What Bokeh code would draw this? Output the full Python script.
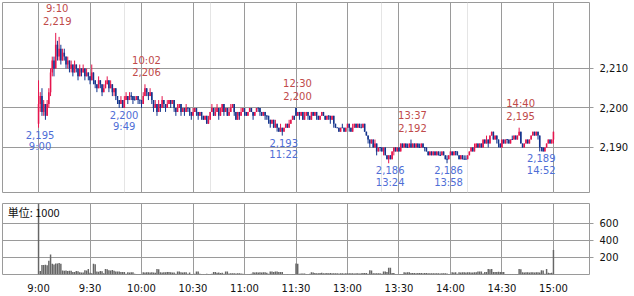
from bokeh.plotting import figure
from bokeh.layouts import column
from bokeh.models import (ColumnDataSource, FixedTicker, NumeralTickFormatter,
                          Range1d, Grid, Label)
from bokeh.embed import file_html
from bokeh.resources import INLINE
from bokeh.core.properties import value

# ---------------- data ----------------
TICK_LABELS = ["9:00", "9:30", "10:00", "10:30", "11:00", "11:30",
               "13:00", "13:30", "14:00", "14:30", "15:00"]
PRICE_TICKS = [2190, 2200, 2210]
VOLUME_TICKS = [200, 400, 600]

# one-minute candles, 9:00-11:30 then 12:30-15:00
OPEN = [
    2196, 2201, 2203, 2199, 2201, 2198, 2201, 2204, 2209, 2212,
    2210, 2216, 2213, 2215, 2212, 2214, 2213, 2211, 2212, 2210,
    2211, 2209, 2211, 2210, 2208, 2210, 2209, 2210, 2208, 2209,
    2208, 2207, 2209, 2207, 2206, 2205, 2207, 2206, 2204, 2205,
    2206, 2207, 2205, 2206, 2204, 2205, 2203, 2202, 2201, 2202,
    2200, 2202, 2203, 2202, 2203, 2203, 2202, 2202, 2203, 2202,
    2202, 2201, 2203, 2205, 2204, 2203, 2204, 2202, 2200, 2201,
    2199, 2201, 2200, 2202, 2201, 2200, 2201, 2202, 2201, 2202,
    2200, 2199, 2200, 2201, 2199, 2200, 2199, 2200, 2200, 2199,
    2198, 2199, 2200, 2199, 2198, 2199, 2198, 2197, 2198, 2196,
    2197, 2199, 2200, 2198, 2199, 2200, 2198, 2199, 2201, 2199,
    2200, 2198, 2199, 2200, 2201, 2199, 2197, 2199, 2198, 2199,
    2200, 2199, 2198, 2199, 2200, 2199, 2198, 2199, 2200, 2200,
    2199, 2198, 2199, 2198, 2198, 2197, 2196, 2197, 2195, 2196,
    2195, 2194, 2195, 2194, 2195, 2196, 2195, 2196, 2197, 2198,
    2200, 2198, 2199, 2198, 2199, 2197, 2198, 2199, 2198, 2197,
    2199, 2198, 2199, 2198, 2197, 2198, 2199, 2198, 2197, 2198,
    2198, 2197, 2198, 2196, 2195, 2195, 2194, 2195, 2195, 2194,
    2195, 2196, 2195, 2194, 2195, 2196, 2195, 2196, 2195, 2195,
    2196, 2194, 2193, 2192, 2191, 2192, 2190, 2191, 2189, 2190,
    2190, 2189, 2190, 2188, 2187, 2188, 2187, 2189, 2190, 2189,
    2190, 2189, 2191, 2190, 2191, 2190, 2190, 2191, 2190, 2191,
    2190, 2191, 2190, 2190, 2191, 2190, 2190, 2189, 2188, 2189,
    2188, 2189, 2188, 2189, 2188, 2188, 2189, 2188, 2187, 2187,
    2188, 2189, 2188, 2189, 2189, 2188, 2187, 2188, 2187, 2187,
    2187, 2188, 2189, 2190, 2189, 2190, 2191, 2190, 2191, 2190,
    2192, 2191, 2192, 2191, 2193, 2194, 2192, 2193, 2192, 2191,
    2190, 2192, 2191, 2192, 2192, 2191, 2192, 2192, 2193, 2192,
    2193, 2194, 2191, 2190, 2191, 2192, 2191, 2192, 2193, 2194,
    2193, 2194, 2193, 2190, 2190, 2189, 2190, 2191, 2192, 2191, 2192,
]
CLOSE = [
    2201, 2203, 2199, 2201, 2198, 2201, 2204, 2209, 2212, 2210,
    2216, 2213, 2215, 2212, 2214, 2213, 2211, 2212, 2210, 2211,
    2209, 2211, 2210, 2208, 2210, 2209, 2210, 2208, 2209, 2208,
    2207, 2209, 2207, 2206, 2205, 2207, 2206, 2204, 2205, 2206,
    2207, 2205, 2206, 2204, 2205, 2203, 2202, 2201, 2202, 2200,
    2202, 2203, 2202, 2203, 2203, 2202, 2202, 2203, 2202, 2202,
    2201, 2203, 2205, 2204, 2203, 2204, 2202, 2200, 2201, 2199,
    2201, 2200, 2202, 2201, 2200, 2201, 2202, 2201, 2202, 2200,
    2199, 2200, 2201, 2199, 2200, 2199, 2200, 2200, 2199, 2198,
    2199, 2200, 2199, 2198, 2199, 2198, 2197, 2198, 2196, 2197,
    2199, 2200, 2198, 2199, 2200, 2198, 2199, 2201, 2199, 2200,
    2198, 2199, 2200, 2201, 2199, 2197, 2199, 2198, 2199, 2200,
    2199, 2198, 2199, 2200, 2199, 2198, 2199, 2200, 2200, 2199,
    2198, 2199, 2198, 2198, 2197, 2196, 2197, 2195, 2196, 2195,
    2194, 2195, 2194, 2195, 2196, 2195, 2196, 2197, 2198, 2197,
    2198, 2199, 2198, 2199, 2197, 2198, 2199, 2198, 2197, 2199,
    2198, 2199, 2198, 2197, 2198, 2199, 2198, 2197, 2198, 2198,
    2197, 2198, 2196, 2195, 2195, 2194, 2195, 2195, 2194, 2195,
    2196, 2195, 2194, 2195, 2196, 2195, 2196, 2195, 2195, 2196,
    2194, 2193, 2192, 2191, 2192, 2190, 2191, 2189, 2190, 2190,
    2189, 2190, 2188, 2187, 2188, 2187, 2189, 2190, 2189, 2190,
    2189, 2191, 2190, 2191, 2190, 2190, 2191, 2190, 2191, 2190,
    2191, 2190, 2190, 2191, 2190, 2190, 2189, 2188, 2189, 2188,
    2189, 2188, 2189, 2188, 2188, 2189, 2188, 2187, 2187, 2188,
    2189, 2188, 2189, 2189, 2188, 2187, 2188, 2187, 2187, 2187,
    2188, 2189, 2190, 2189, 2190, 2191, 2190, 2191, 2190, 2192,
    2191, 2192, 2191, 2193, 2194, 2192, 2193, 2192, 2191, 2190,
    2192, 2191, 2192, 2192, 2191, 2192, 2192, 2193, 2192, 2193,
    2194, 2191, 2190, 2191, 2192, 2191, 2192, 2193, 2194, 2193,
    2194, 2193, 2190, 2190, 2189, 2190, 2191, 2192, 2191, 2192, 2194,
]
HIGH = [
    2207, 2204, 2205, 2202, 2201, 2202, 2205, 2210, 2213, 2213,
    2219, 2217, 2218, 2216, 2215, 2215, 2213, 2213, 2212, 2212,
    2211, 2212, 2211, 2210, 2211, 2210, 2211, 2210, 2210, 2209,
    2208, 2211, 2209, 2207, 2206, 2208, 2207, 2206, 2206, 2207,
    2208, 2207, 2207, 2206, 2205, 2205, 2203, 2202, 2203, 2202,
    2203, 2204, 2203, 2204, 2204, 2203, 2203, 2203, 2203, 2202,
    2202, 2204, 2206, 2205, 2204, 2205, 2204, 2202, 2202, 2201,
    2202, 2201, 2203, 2202, 2201, 2202, 2202, 2202, 2202, 2202,
    2200, 2201, 2201, 2201, 2200, 2200, 2201, 2200, 2200, 2199,
    2200, 2200, 2200, 2199, 2199, 2199, 2198, 2198, 2198, 2198,
    2199, 2201, 2200, 2200, 2201, 2200, 2200, 2201, 2201, 2200,
    2200, 2200, 2201, 2201, 2201, 2199, 2199, 2199, 2200, 2200,
    2200, 2199, 2199, 2200, 2200, 2199, 2199, 2200, 2200, 2200,
    2199, 2199, 2199, 2198, 2198, 2197, 2197, 2197, 2197, 2196,
    2195, 2196, 2195, 2195, 2196, 2196, 2197, 2197, 2198, 2198,
    2200, 2199, 2199, 2199, 2199, 2199, 2199, 2199, 2198, 2199,
    2199, 2199, 2199, 2198, 2198, 2199, 2199, 2198, 2198, 2198,
    2198, 2198, 2198, 2196, 2195, 2195, 2195, 2196, 2195, 2195,
    2196, 2196, 2195, 2196, 2196, 2196, 2196, 2196, 2196, 2196,
    2196, 2194, 2193, 2192, 2192, 2192, 2192, 2191, 2190, 2190,
    2190, 2190, 2190, 2188, 2188, 2188, 2189, 2190, 2190, 2190,
    2190, 2191, 2191, 2191, 2191, 2191, 2191, 2192, 2191, 2191,
    2191, 2191, 2191, 2191, 2191, 2190, 2190, 2189, 2189, 2189,
    2189, 2189, 2189, 2189, 2189, 2189, 2189, 2188, 2188, 2188,
    2189, 2189, 2189, 2189, 2189, 2188, 2188, 2188, 2188, 2188,
    2188, 2189, 2190, 2190, 2191, 2191, 2191, 2191, 2191, 2192,
    2192, 2193, 2192, 2193, 2194, 2194, 2193, 2193, 2192, 2191,
    2192, 2192, 2192, 2192, 2192, 2192, 2193, 2193, 2193, 2193,
    2195, 2194, 2191, 2191, 2192, 2192, 2192, 2193, 2194, 2194,
    2194, 2194, 2193, 2190, 2190, 2190, 2191, 2192, 2192, 2192, 2194,
]
LOW = [
    2195, 2199, 2198, 2198, 2197, 2198, 2200, 2203, 2208, 2208,
    2210, 2212, 2212, 2211, 2212, 2212, 2210, 2210, 2209, 2209,
    2208, 2209, 2209, 2207, 2208, 2208, 2209, 2207, 2208, 2207,
    2206, 2207, 2206, 2205, 2204, 2205, 2205, 2203, 2204, 2205,
    2206, 2204, 2205, 2203, 2203, 2202, 2201, 2200, 2201, 2200,
    2200, 2202, 2201, 2202, 2202, 2201, 2202, 2202, 2201, 2201,
    2200, 2201, 2203, 2203, 2202, 2203, 2201, 2199, 2200, 2198,
    2199, 2199, 2200, 2200, 2199, 2200, 2201, 2200, 2201, 2199,
    2198, 2199, 2200, 2198, 2199, 2198, 2199, 2199, 2198, 2197,
    2198, 2199, 2198, 2197, 2198, 2197, 2197, 2197, 2196, 2196,
    2197, 2199, 2198, 2198, 2199, 2197, 2198, 2199, 2198, 2199,
    2198, 2198, 2199, 2200, 2198, 2197, 2197, 2197, 2198, 2199,
    2198, 2198, 2198, 2199, 2199, 2197, 2198, 2199, 2199, 2198,
    2198, 2198, 2197, 2197, 2196, 2195, 2196, 2195, 2195, 2194,
    2194, 2194, 2193, 2194, 2195, 2195, 2195, 2196, 2197, 2197,
    2198, 2198, 2197, 2198, 2197, 2197, 2198, 2197, 2197, 2197,
    2198, 2198, 2197, 2197, 2197, 2198, 2198, 2197, 2197, 2197,
    2196, 2197, 2195, 2195, 2195, 2194, 2194, 2195, 2194, 2194,
    2195, 2194, 2194, 2194, 2195, 2195, 2195, 2195, 2195, 2195,
    2194, 2193, 2191, 2190, 2191, 2190, 2190, 2188, 2189, 2189,
    2189, 2188, 2188, 2187, 2186, 2187, 2187, 2188, 2189, 2189,
    2189, 2189, 2190, 2190, 2190, 2190, 2190, 2190, 2190, 2190,
    2190, 2190, 2190, 2190, 2190, 2189, 2189, 2188, 2188, 2188,
    2188, 2188, 2188, 2188, 2188, 2188, 2188, 2187, 2186, 2187,
    2188, 2188, 2188, 2188, 2188, 2187, 2187, 2187, 2187, 2187,
    2187, 2188, 2189, 2189, 2189, 2190, 2190, 2190, 2190, 2190,
    2191, 2191, 2190, 2191, 2193, 2192, 2192, 2191, 2190, 2190,
    2190, 2191, 2191, 2191, 2191, 2191, 2192, 2192, 2192, 2192,
    2193, 2191, 2190, 2190, 2191, 2191, 2191, 2192, 2193, 2193,
    2193, 2192, 2189, 2189, 2189, 2189, 2190, 2191, 2191, 2191, 2191,
]
# volume in units of 1000 shares
VOLUME = [
    1150, 40, 110, 112, 115, 108, 160, 235, 125, 118,
    130, 128, 135, 125, 48, 45, 46, 42, 45, 44,
    30, 28, 40, 38, 25, 22, 24, 50, 48, 65,
    20, 15, 125, 120, 35, 32, 40, 38, 15, 65,
    62, 50, 48, 52, 45, 35, 36, 34, 30, 28,
    30, 10, 25, 24, 26, 25, 8, 5, 6, 5,
    4, 25, 24, 26, 25, 22, 25, 24, 20, 65,
    62, 25, 24, 26, 25, 30, 28, 25, 22, 24,
    10, 35, 34, 25, 24, 26, 25, 10, 24, 6,
    5, 8, 35, 34, 8, 6, 7, 5, 8, 6,
    7, 8, 30, 28, 20, 22, 18, 20, 10, 35,
    34, 12, 15, 14, 15, 13, 15, 14, 12, 8,
    5, 4, 6, 5, 8, 25, 24, 26, 22, 25,
    24, 26, 25, 20, 8, 35, 34, 30, 36, 35,
    30, 28, 30, 5, 4, 5, 3, 4, 5, 6,
    130, 125, 10, 12, 11, 12, 5, 6, 8, 25,
    24, 18, 16, 15, 18, 20, 15, 16, 18, 15,
    17, 16, 15, 14, 15, 12, 15, 14, 13, 15,
    16, 15, 14, 15, 12, 14, 15, 13, 14, 18,
    17, 18, 10, 50, 48, 15, 14, 16, 15, 14,
    8, 35, 34, 30, 80, 78, 18, 17, 5, 4,
    5, 6, 5, 25, 24, 26, 25, 18, 17, 18,
    16, 18, 17, 18, 16, 18, 17, 15, 14, 15,
    16, 15, 14, 15, 13, 15, 14, 15, 12, 6,
    5, 25, 24, 26, 10, 25, 24, 26, 25, 24,
    26, 25, 22, 24, 25, 26, 35, 34, 36, 12,
    30, 28, 65, 62, 64, 30, 28, 30, 32, 28,
    30, 29, 6, 5, 7, 6, 5, 6, 7, 5,
    65, 62, 25, 24, 26, 25, 24, 25, 26, 24,
    25, 26, 24, 50, 48, 10, 65, 20, 18, 20, 287,
]

HIGH_MARK_TIMES = ["9:10", "10:02", "12:30", "13:37", "14:40"]
HIGH_MARK_PRICES = [2219, 2206, 2200, 2192, 2195]
LOW_MARK_TIMES = ["9:00", "9:49", "11:22", "13:24", "13:58", "14:52"]
LOW_MARK_PRICES = [2195, 2200, 2193, 2186, 2186, 2189]
UNIT_TEXT = "単位: 1000"

# ---------------- styling ----------------
UP = "#e5154d"
DOWN = "#12338c"
GRID = "#9a9a9a"
HIGH_TXT = "#c04a4a"
LOW_TXT = "#4f6ed6"
FONT = "DejaVu Sans"
X0, X1 = -21, 321
Y0, Y1 = 2178.6, 2226.7
FRAME_H = 190


def tidx(t):
    h, m = (int(v) for v in t.split(":"))
    mins = h * 60 + m
    return mins - 540 if mins <= 690 else mins - 750 + 150


tick_pos = [tidx(t) for t in TICK_LABELS]
overrides = {pos: lab for pos, lab in zip(tick_pos, TICK_LABELS)}

n = len(CLOSE)
xs = list(range(n))
colors, tops, bottoms = [], [], []
for o, c in zip(OPEN, CLOSE):
    if c > o:
        colors.append(UP); tops.append(c); bottoms.append(o)
    elif c < o:
        colors.append(DOWN); tops.append(o); bottoms.append(c)
    else:
        colors.append(DOWN); tops.append(o + 0.13); bottoms.append(o - 0.13)

src = ColumnDataSource(dict(x=xs, high=HIGH, low=LOW, top=tops,
                            bottom=bottoms, color=colors))

# ---------------- price chart ----------------
p1 = figure(width=634, height=197, x_range=Range1d(X0, X1),
            y_range=Range1d(Y0, Y1), output_backend="svg",
            toolbar_location=None, x_axis_location=None,
            y_axis_location="right", min_border_left=2, min_border_top=2,
            min_border_bottom=5, min_border_right=45)
p1.outline_line_color = GRID
p1.background_fill_color = "white"
p1.border_fill_color = "white"
p1.add_layout(Grid(dimension=0, ticker=FixedTicker(ticks=tick_pos),
                   grid_line_color=GRID))
p1.ygrid.ticker = FixedTicker(ticks=PRICE_TICKS)
p1.ygrid.grid_line_color = GRID
ya = p1.yaxis[0]
ya.ticker = FixedTicker(ticks=PRICE_TICKS)
ya.formatter = NumeralTickFormatter(format="0,0")
ya.axis_line_color = None
ya.major_tick_line_color = GRID
ya.major_tick_in = 0
ya.major_tick_out = 4
ya.minor_tick_line_color = None
ya.major_label_standoff = 6
ya.major_label_text_font = FONT
ya.major_label_text_font_size = "10px"
ya.major_label_text_color = "#111111"

p1.segment(x0="x", y0="low", x1="x", y1="high", color="color",
           line_width=1, source=src)
p1.vbar(x="x", top="top", bottom="bottom", width=0.9, fill_color="color",
        line_color=None, source=src)

ppy = FRAME_H / (Y1 - Y0)
hx = [tidx(t) for t in HIGH_MARK_TIMES]
lx = [tidx(t) for t in LOW_MARK_TIMES]
hsrc = ColumnDataSource(dict(
    x=hx,
    yp=[p + 12 / ppy for p in HIGH_MARK_PRICES],
    yt=[p + 24 / ppy for p in HIGH_MARK_PRICES],
    tp=["{:,}".format(p) for p in HIGH_MARK_PRICES],
    tt=HIGH_MARK_TIMES))
lsrc = ColumnDataSource(dict(
    x=lx,
    yp=[p - 7 / ppy for p in LOW_MARK_PRICES],
    yt=[p - 19 / ppy for p in LOW_MARK_PRICES],
    tp=["{:,}".format(p) for p in LOW_MARK_PRICES],
    tt=LOW_MARK_TIMES))
for s, col in ((hsrc, HIGH_TXT), (lsrc, LOW_TXT)):
    for ycol, tcol in (("yp", "tp"), ("yt", "tt")):
        p1.text(x="x", y=ycol, text=tcol, source=s, text_color=col,
                text_font=value(FONT), text_font_size="10px",
                text_align="center", text_baseline="middle", x_offset=1.5)

# ---------------- volume chart ----------------
p2 = figure(width=634, height=99, x_range=p1.x_range,
            y_range=Range1d(0, 831), output_backend="svg",
            toolbar_location=None, y_axis_location="right",
            min_border_left=2, min_border_top=6, min_border_bottom=14,
            min_border_right=45)
p2.outline_line_color = GRID
p2.xgrid.ticker = FixedTicker(ticks=tick_pos)
p2.ygrid.ticker = FixedTicker(ticks=VOLUME_TICKS)
p2.xgrid.grid_line_color = GRID
p2.ygrid.grid_line_color = GRID
xa = p2.xaxis[0]
xa.ticker = FixedTicker(ticks=tick_pos)
xa.major_label_overrides = overrides
xa.axis_line_color = None
xa.major_tick_line_color = None
xa.minor_tick_line_color = None
xa.major_label_standoff = 2
xa.major_label_text_font = FONT
xa.major_label_text_font_size = "10px"
xa.major_label_text_color = "#111111"
va = p2.yaxis[0]
va.ticker = FixedTicker(ticks=VOLUME_TICKS)
va.axis_line_color = None
va.major_tick_line_color = GRID
va.major_tick_in = 0
va.major_tick_out = 4
va.minor_tick_line_color = None
va.major_label_standoff = 6
va.major_label_text_font = FONT
va.major_label_text_font_size = "10px"
va.major_label_text_color = "#111111"

p2.vbar(x=xs, top=VOLUME, bottom=0, width=0.85, fill_color="#666666",
        line_color=None)
p2.add_layout(Label(x=-18, y=737, text=UNIT_TEXT, text_font="Noto Sans CJK JP",
                    text_font_size="11px", text_baseline="middle",
                    text_color="#111111"))

layout = column(p1, p2, spacing=0)
open("out.html", "w").write(file_html(layout, INLINE))
